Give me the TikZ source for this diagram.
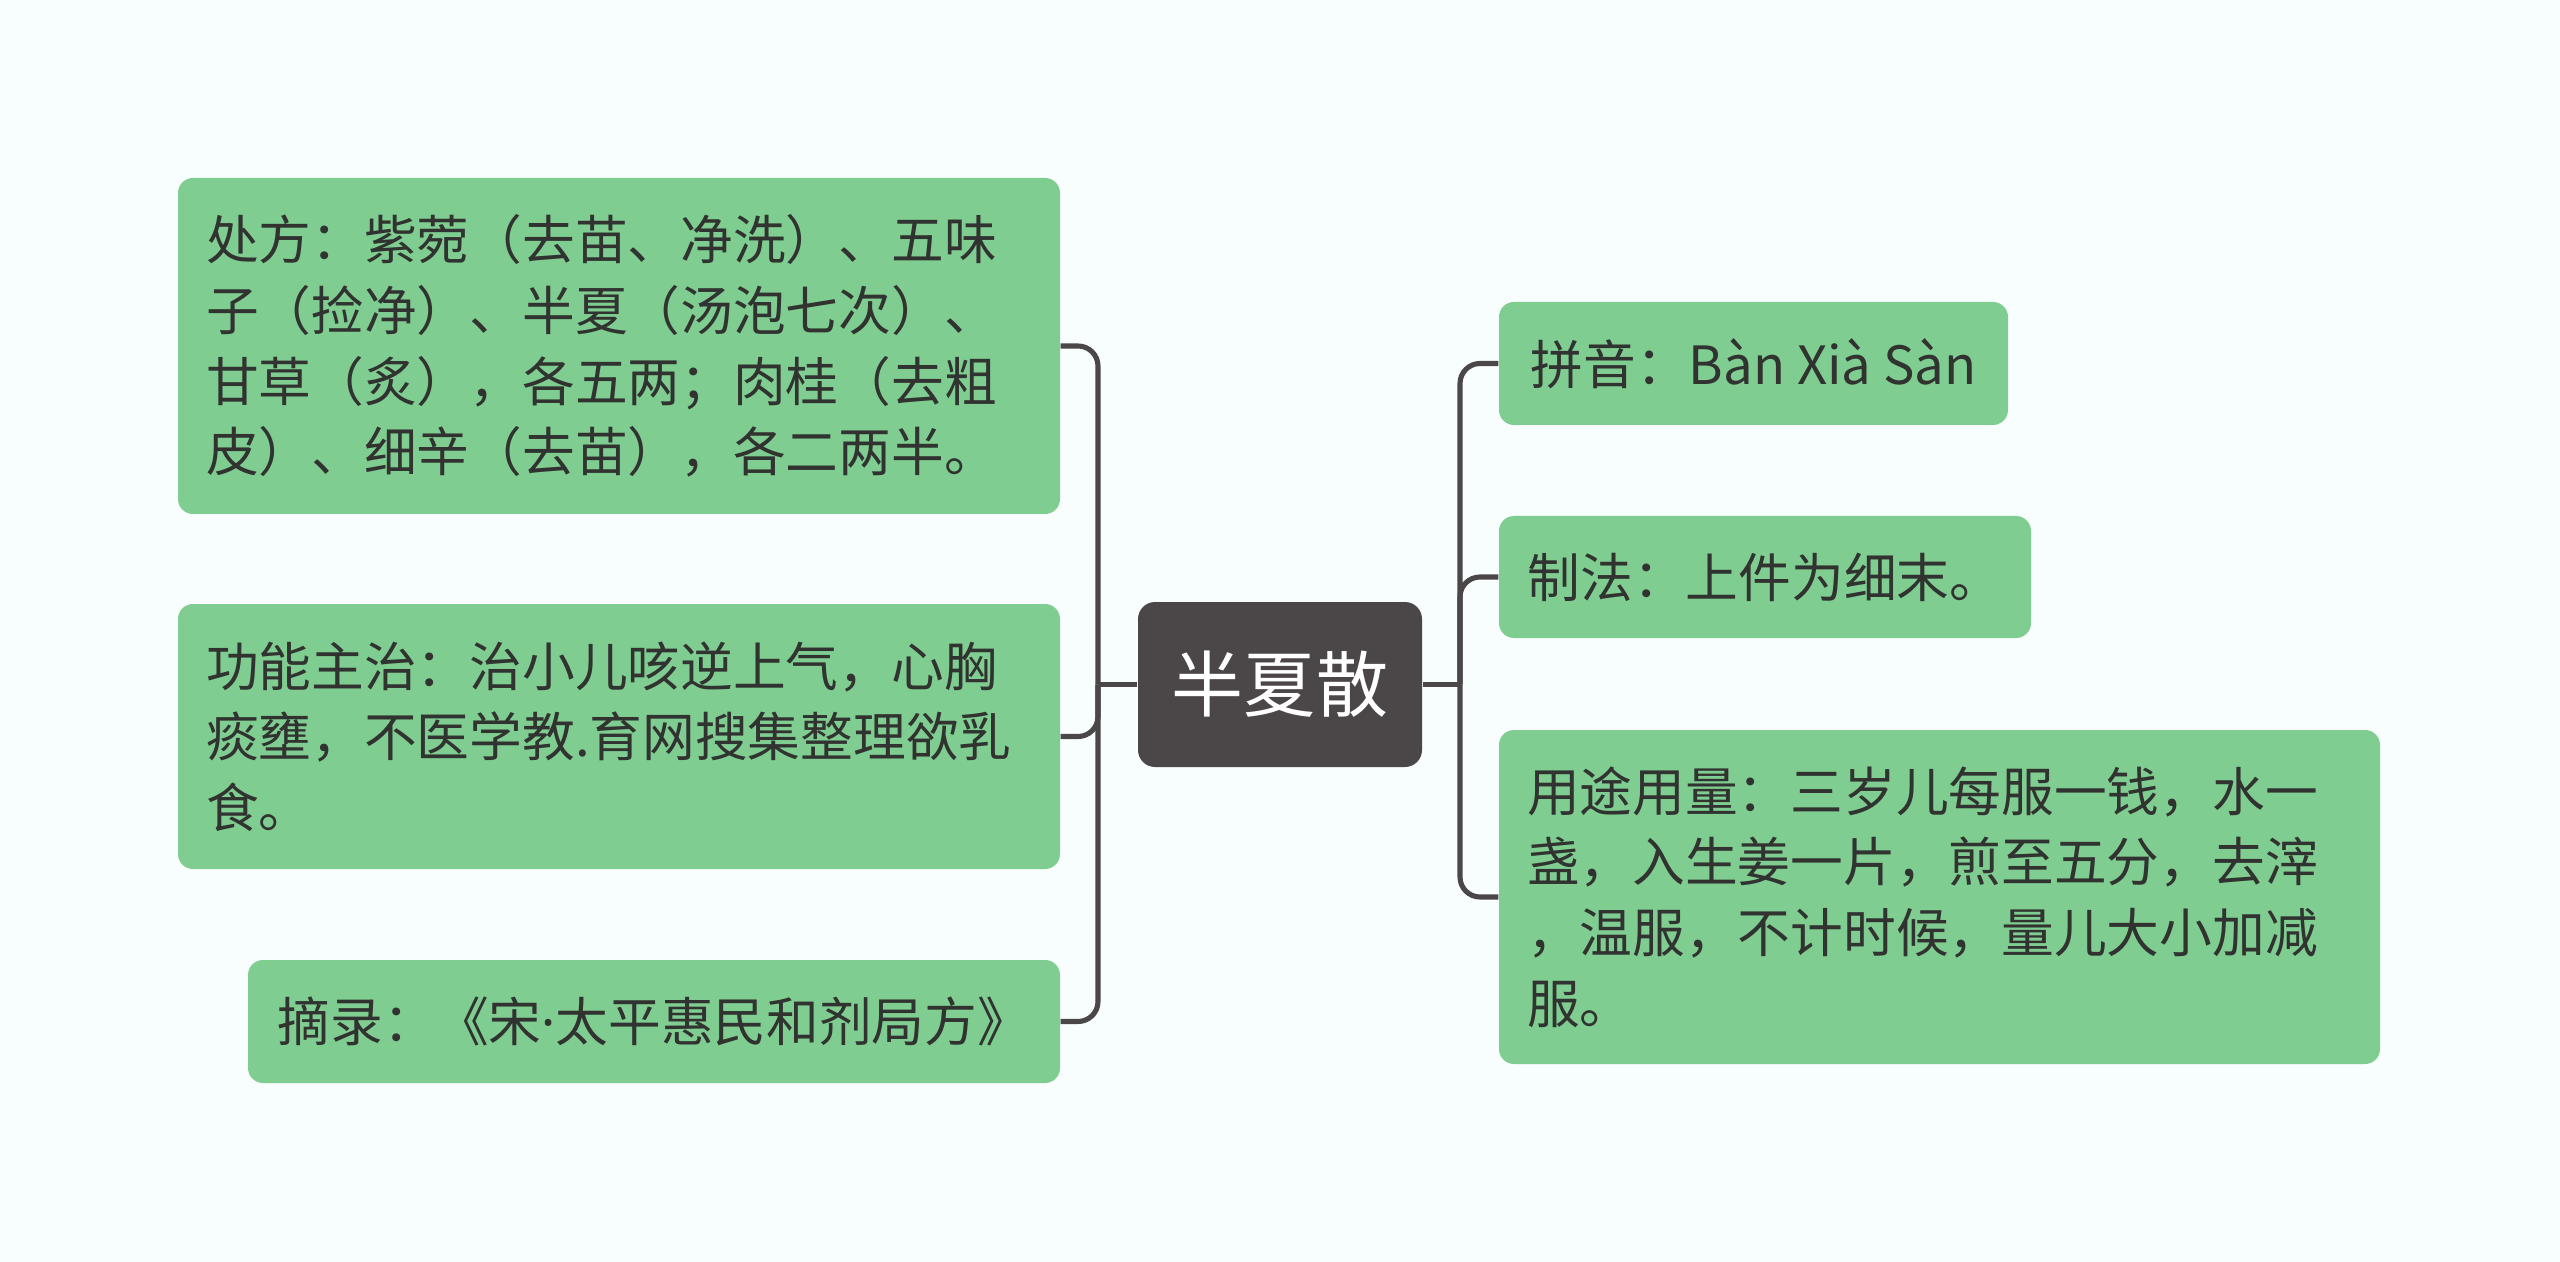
\documentclass[tikz,border=0pt]{standalone}
\usepackage{fontspec}
\setmainfont{Noto Sans CJK SC}
\newfontfamily\latinfont{Noto Sans}
\usetikzlibrary{positioning,calc}
\definecolor{paper}{HTML}{F8FDFD}
\definecolor{leafgreen}{HTML}{80CD91}
\definecolor{hubgray}{HTML}{4B4647}
\definecolor{wire}{HTML}{4B4647}
\definecolor{ink}{HTML}{303330}
\tikzset{
  every node/.style={text=ink},
  leaf/.style={fill=leafgreen, rounded corners=0.15cm, inner xsep=0.28cm, inner ysep=0pt,
               align=left, font=\fontsize{15pt}{20.1pt}\selectfont},
  hub/.style={fill=hubgray, rounded corners=0.17cm, text=white, inner sep=0pt,
              minimum width=2.84cm, minimum height=1.65cm,
              font=\fontsize{20.5pt}{24pt}\selectfont},
  wirel/.style={draw=wire, line width=1.45pt, rounded corners=0.2cm},
}

\begin{document}
\begin{tikzpicture}[x=1cm,y=1cm]

\fill[paper] (0,0) rectangle (25.6,-12.62);
\useasboundingbox (0,0) rectangle (25.6,-12.62);

% ---------------- hub ----------------
\node[hub] (hx) at (12.80,-6.845) {半夏散};

% ---------------- left branch ----------------
\node[leaf, text width=8.26cm, minimum height=3.36cm] (chufang) at (6.19,-3.46)
  {处方：紫菀（去苗、净洗）、五味\\
   子（捡净）、半夏（汤泡七次）、\\
   甘草（炙），各五两；肉桂（去粗\\
   皮）、细辛（去苗），各二两半。};

\node[leaf, text width=8.26cm, minimum height=2.65cm] (gongneng) at (6.19,-7.365)
  {功能主治：治小儿咳逆上气，心胸\\
   痰壅，不医学教.育网搜集整理欲乳\\
   食。};

\node[leaf, minimum width=8.12cm, minimum height=1.23cm] (zhailu) at (6.54,-10.215)
  {摘录：《宋{\latinfont ·}太平惠民和剂局方》};

% ---------------- right branch ----------------
\node[leaf, minimum width=5.09cm, minimum height=1.23cm] (pinyin) at (17.535,-3.635)
  {拼音：Bàn Xià Sàn};

\node[leaf, minimum width=5.32cm, minimum height=1.22cm] (zhifa) at (17.65,-5.77)
  {制法：上件为细末。};

\node[leaf, text width=8.25cm, minimum height=3.34cm] (yongtu) at (19.395,-8.97)
  {用途用量：三岁儿每服一钱，水一\\
   盏，入生姜一片，煎至五分，去滓\\
   ，温服，不计时候，量儿大小加减\\
   服。};

% ---------------- connectors ----------------
\coordinate (jl) at (10.98,-6.845);
\coordinate (jr) at (14.60,-6.845);
\draw[wirel] (hx.west) -- (jl);
\draw[wirel] (hx.east) -- (jr);
\foreach \leafname in {chufang,gongneng,zhailu}
  \draw[wirel] (jl) |- (\leafname.east);
\foreach \leafname in {pinyin,zhifa,yongtu}
  \draw[wirel] (jr) |- (\leafname.west);

\end{tikzpicture}
\end{document}
